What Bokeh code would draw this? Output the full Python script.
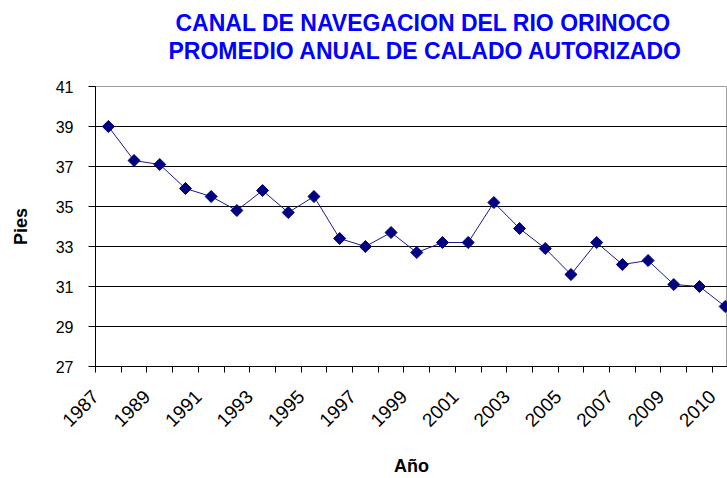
import math
from bokeh.plotting import figure
from bokeh.models import Range1d, FixedTicker, Title
from bokeh.embed import file_html
from bokeh.resources import INLINE

values = [39.0, 37.3, 37.1, 35.9, 35.5, 34.8, 35.8, 34.7, 35.5, 33.4,
          33.0, 33.7, 32.7, 33.2, 33.2, 35.2, 33.9, 32.9, 31.6, 33.2,
          32.1, 32.3, 31.1, 31.0, 30.0]
year_labels = ["1987", "1989", "1991", "1993", "1995", "1997", "1999",
               "2001", "2003", "2005", "2007", "2009", "2010"]
y_ticks = [27, 29, 31, 33, 35, 37, 39, 41]
title_lines = ["CANAL DE NAVEGACION DEL RIO ORINOCO",
               "PROMEDIO ANUAL DE CALADO AUTORIZADO"]

idx = list(range(len(values)))
FONT = "Liberation Sans"

W, H = 727, 478
LEFT, TOP, BOTTOM = 95, 86, 368
p = figure(width=W, height=H, output_backend="svg", toolbar_location=None,
           x_range=Range1d(-0.5, 24.09), y_range=Range1d(27, 41),
           min_border_left=LEFT, min_border_right=0, min_border_top=TOP,
           min_border_bottom=H - BOTTOM)
p.title.visible = False
p.background_fill_color = "white"
p.border_fill_color = "white"
p.outline_line_color = "#a0a0a0"

# spacer between frame and title block (first added = closest to frame)
p.add_layout(Title(text=" ", text_font=FONT, text_font_size="10px",
                   standoff=10), "above")
for txt, off in [(title_lines[1], 73), (title_lines[0], 80)]:
    p.add_layout(Title(text=txt, align="left", offset=off, standoff=0,
                       text_font=FONT, text_font_size="23px",
                       text_font_style="bold", text_color="#0000ff"), "above")

# axes
p.yaxis.ticker = FixedTicker(ticks=y_ticks)
p.yaxis.axis_label = "Pies"
p.yaxis.axis_label_text_font = FONT
p.yaxis.axis_label_text_font_size = "18px"
p.yaxis.axis_label_text_font_style = "bold"
p.yaxis.axis_label_text_color = "black"
p.yaxis.axis_label_standoff = 22
p.yaxis.major_label_text_font = FONT
p.yaxis.major_label_text_font_size = "16px"
p.yaxis.major_label_text_color = "black"
p.yaxis.axis_line_color = "black"
p.yaxis.major_tick_line_color = "black"
p.yaxis.major_tick_in = 0
p.yaxis.major_tick_out = 7
p.yaxis.minor_tick_line_color = None
p.yaxis.major_label_standoff = 15

xt = [k - 0.5 for k in range(len(values) + 1)]
overrides = {x: "" for x in xt}
for i, lab in enumerate(year_labels):
    overrides[2 * i - 0.5] = lab
p.xaxis.ticker = FixedTicker(ticks=xt)
p.xaxis.major_label_overrides = overrides
p.xaxis.major_label_orientation = math.pi / 4
p.xaxis.axis_label = "Año"
p.xaxis.axis_label_text_font = FONT
p.xaxis.axis_label_text_font_size = "18px"
p.xaxis.axis_label_text_font_style = "bold"
p.xaxis.axis_label_text_color = "black"
p.xaxis.axis_label_standoff = 20
p.xaxis.major_label_text_font = FONT
p.xaxis.major_label_text_font_size = "19px"
p.xaxis.major_label_text_color = "black"
p.xaxis.axis_line_color = "black"
p.xaxis.major_tick_line_color = "black"
p.xaxis.major_tick_in = 0
p.xaxis.major_tick_out = 6
p.xaxis.minor_tick_line_color = None
p.xaxis.major_label_standoff = 21

p.xgrid.grid_line_color = None
p.ygrid.ticker = FixedTicker(ticks=[29, 31, 33, 35, 37, 39])
p.ygrid.grid_line_color = "black"
p.ygrid.grid_line_width = 1.2

p.line(idx, values, line_color="#1a1a8c", line_width=1)
p.scatter(idx, values, marker="square", angle=math.pi / 4, size=8.5,
          fill_color="#000080", line_color="#000080")

open("out.html", "w").write(file_html(p, INLINE))
